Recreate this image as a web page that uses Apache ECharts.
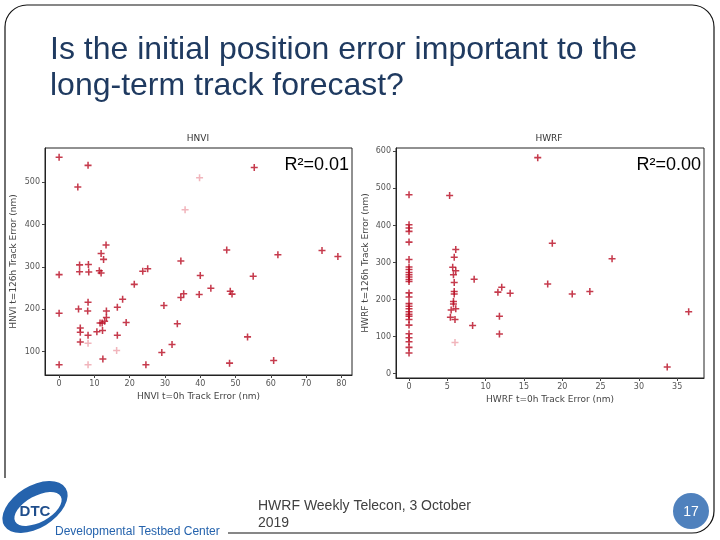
<!DOCTYPE html>
<html>
<head>
<meta charset="utf-8">
<script src="https://cdn.jsdelivr.net/npm/echarts@6/dist/echarts.min.js"></script>
<style>
html,body{margin:0;padding:0;background:#fff;}
#c{width:720px;height:540px;}
</style>
</head>
<body>
<div id="c"></div>
<script>
// ---- data ----
var titleLines = ['Is the initial position error important to the', 'long-term track forecast?'];
var hnviTitle = 'HNVI';
var hwrfTitle = 'HWRF';
var hnviR2 = 'R²=0.01';
var hwrfR2 = 'R²=0.00';
var hnviXName = 'HNVI t=0h Track Error (nm)';
var hnviYName = 'HNVI t=126h Track Error (nm)';
var hwrfXName = 'HWRF t=0h Track Error (nm)';
var hwrfYName = 'HWRF t=126h Track Error (nm)';
var footerText = 'HWRF Weekly Telecon, 3 October\n2019';
var pageNumber = '17';

var hnviPoints = [
  [0,559],[8.2,540],[5.3,489],[55.3,535],[0,282],[0,191],[0,69],[5.8,305],[5.8,289],[5.5,201],
  [6,156],[6,146],[6,123],[8.3,306],[8.4,288],[8.2,217],[8.1,196],[8.2,139],[11.9,332],[13.3,352],
  [12.6,318],[11.4,291],[11.9,286],[11.6,168],[12.2,168],[10.7,147],[12.3,150],[13.4,196],[13.4,181],
  [12.9,172],[12.4,83],[16.5,205],[18,224],[16.5,139],[19,169],[21.3,259],[23.7,290],[25.1,296],
  [29.7,209],[29.1,98],[24.6,69],[32,117],[33.5,166],[34.5,314],[34.5,228],[35.3,237],[40,280],
  [39.7,235],[43,250],[47.5,340],[48.5,243],[49,236],[48.3,73],[53.4,135],[55,278],[62,329],
  [60.8,79],[74.5,339],[79,325]
];
var hnviFaint = [[39.8,511],[35.7,435],[8.2,120],[8.2,69],[16.3,103]];

var hwrfZeroColumn = [483,402,393,384,355,308,288,281,273,267,261,254,249,218,207,189,182,175,167,160,155,146,131,108,97,86,71,56];
var hwrfPoints = [
  [5.3,481],[6.1,335],[5.9,314],[5.7,287],[6.1,278],[5.8,267],[5.9,246],[5.9,222],[5.9,215],[5.8,195],
  [5.8,188],[5.5,172],[6.1,175],[5.4,152],[6,146],
  [16.8,583],[18.7,352],[26.5,310],[18.1,242],[8.5,255],[12.1,233],[11.6,220],[13.2,217],[21.3,215],
  [23.6,222],[11.8,155],[8.3,130],[11.8,107],[33.7,18],[36.5,167]
];
var hwrfFaint = [[6,84]];

// ---- chart ----
var chart = echarts.init(document.getElementById('c'), null, {renderer: 'canvas'});
var cross = 'path://M3.9,0H6.1V3.9H10V6.1H6.1V10H3.9V6.1H0V3.9H3.9Z';
var red = '#b80a20';
var faint = '#eea3ab';
var tickFont = {color: '#555', fontSize: 8, fontFamily: 'DejaVu Sans'};
var nameFont = {color: '#444', fontSize: 9, fontFamily: 'DejaVu Sans'};

function valAxis(gridIndex, min, max, split, name, gap) {
  return {
    type: 'value', gridIndex: gridIndex, min: min, max: max, splitNumber: split,
    name: name, nameLocation: 'middle', nameGap: gap, nameTextStyle: nameFont,
    axisLine: {show: true, onZero: false, lineStyle: {color: '#222', width: 1}},
    axisTick: {show: true, length: 3, lineStyle: {color: '#444'}},
    axisLabel: Object.assign({showMinLabel: false, showMaxLabel: false, margin: 5}, tickFont),
    splitLine: {show: false}
  };
}

var hwrfZeroPts = hwrfZeroColumn.map(function (v) { return [0, v]; });

var option = {
  backgroundColor: '#fff',
  animation: false,
  grid: [
    {left: 45, top: 148, width: 307, height: 227, show: true, borderColor: '#222', borderWidth: 1, backgroundColor: '#fff'},
    {left: 396, top: 148, width: 308, height: 230, show: true, borderColor: '#222', borderWidth: 1, backgroundColor: '#fff'}
  ],
  xAxis: [
    valAxis(0, -4, 83, 8, hnviXName, 17),
    valAxis(1, -1.7, 38.5, 8, hwrfXName, 17)
  ],
  yAxis: [
    valAxis(0, 45, 581, 5, hnviYName, 27),
    valAxis(1, -11.7, 609, 6, hwrfYName, 26)
  ],
  series: [
    {type: 'scatter', xAxisIndex: 0, yAxisIndex: 0, data: hnviFaint, symbol: cross, symbolSize: 7, itemStyle: {color: faint}},
    {type: 'scatter', xAxisIndex: 0, yAxisIndex: 0, data: hnviPoints, symbol: cross, symbolSize: 7, itemStyle: {color: red}},
    {type: 'scatter', xAxisIndex: 1, yAxisIndex: 1, data: hwrfFaint, symbol: cross, symbolSize: 7, itemStyle: {color: faint}},
    {type: 'scatter', xAxisIndex: 1, yAxisIndex: 1, data: hwrfZeroPts, symbol: cross, symbolSize: 7, itemStyle: {color: red}},
    {type: 'scatter', xAxisIndex: 1, yAxisIndex: 1, data: hwrfPoints, symbol: cross, symbolSize: 7, itemStyle: {color: red}}
  ],
  graphic: [
    // slide frame
    {type: 'rect', z: 100, shape: {x: 5, y: 5, width: 709, height: 528, r: 22}, style: {fill: 'none', stroke: '#111', lineWidth: 1.2}},
    {type: 'rect', z: 101, shape: {x: 0, y: 478, width: 228, height: 62}, style: {fill: '#fff'}},
    // title
    {type: 'text', x: 50, y: 34, z: 102, style: {text: titleLines[0], font: '32px "Liberation Sans"', fill: '#1f3a60'}},
    {type: 'text', x: 50, y: 70, z: 102, style: {text: titleLines[1], font: '32px "Liberation Sans"', fill: '#1f3a60'}},
    // subplot titles
    {type: 'text', x: 198, y: 139, z: 102, style: {text: hnviTitle, font: '9px "DejaVu Sans"', fill: '#333', align: 'center', verticalAlign: 'middle'}},
    {type: 'text', x: 549, y: 139, z: 102, style: {text: hwrfTitle, font: '9px "DejaVu Sans"', fill: '#333', align: 'center', verticalAlign: 'middle'}},
    // R2
    {type: 'text', x: 349, y: 165, z: 102, style: {text: hnviR2, font: '18px "Liberation Sans"', fill: '#000', align: 'right', verticalAlign: 'middle'}},
    {type: 'text', x: 701, y: 165, z: 102, style: {text: hwrfR2, font: '18px "Liberation Sans"', fill: '#000', align: 'right', verticalAlign: 'middle'}},
    // footer
    {type: 'text', x: 258, y: 498, z: 102, style: {text: footerText, font: '14px "Liberation Sans"', fill: '#404040', lineHeight: 17}},
    {type: 'circle', z: 102, shape: {cx: 691, cy: 511, r: 18}, style: {fill: '#4f81bd'}},
    {type: 'text', x: 691, y: 512, z: 103, style: {text: pageNumber, font: '14px "Liberation Sans"', fill: '#fff', align: 'center', verticalAlign: 'middle'}},
    // logo
    {type: 'circle', z: 102, shape: {cx: 35, cy: 507, r: 21}, scaleX: 36 / 21, rotation: 0.55, originX: 35, originY: 507, style: {fill: '#2563ad'}},
    {type: 'circle', z: 103, shape: {cx: 38, cy: 509, r: 13}, scaleX: 26 / 13, rotation: 0.5, originX: 38, originY: 509, style: {fill: '#fff'}},
    {type: 'text', x: 35, y: 512, z: 104, style: {text: 'DTC', font: 'bold 15px "Liberation Sans"', fill: '#1f4e8c', align: 'center', verticalAlign: 'middle'}},
    {type: 'text', x: 55, y: 532, z: 104, style: {text: 'Developmental Testbed Center', font: '12px "Liberation Sans"', fill: '#2563ad', verticalAlign: 'middle'}}
  ]
};
chart.setOption(option);
</script>
</body>
</html>
